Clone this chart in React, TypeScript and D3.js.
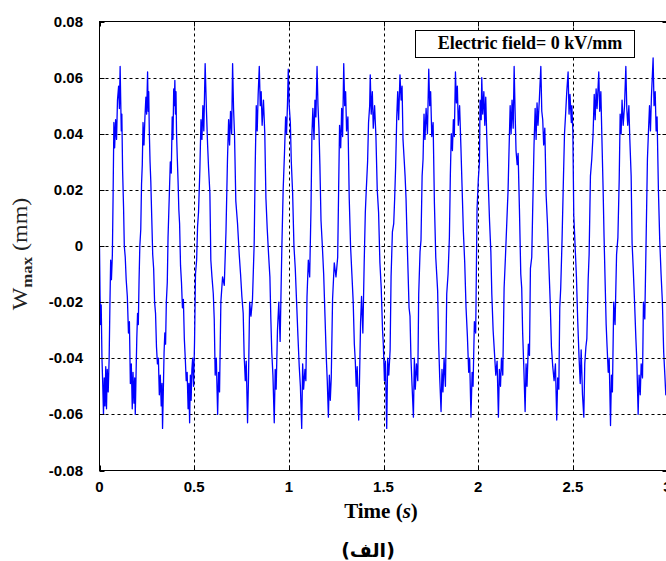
import { useEffect, useRef } from "react";
import * as d3 from "d3";

// W_max (mm) vs time (s) in half-second chunks
const partA: [number, number][] = [
  [0.000, 0.000], [0.003, -0.018], [0.006, -0.028], [0.009, -0.021], [0.013, -0.040], [0.017, -0.049],
  [0.021, -0.060], [0.025, -0.047], [0.029, -0.057], [0.033, -0.043], [0.037, -0.058], [0.041, -0.044],
  [0.046, -0.052], [0.051, -0.040], [0.055, -0.021], [0.059, -0.005], [0.063, -0.012], [0.068, -0.003],
  [0.072, 0.019], [0.076, 0.044], [0.080, 0.035], [0.085, 0.045], [0.090, 0.038], [0.095, 0.052],
  [0.101, 0.057], [0.105, 0.049], [0.109, 0.064], [0.112, 0.052], [0.115, 0.041], [0.118, 0.047],
  [0.122, 0.027], [0.127, 0.014], [0.131, 0.000], [0.136, -0.004], [0.141, -0.012], [0.147, -0.018],
  [0.153, -0.031], [0.158, -0.027], [0.163, -0.049], [0.168, -0.042], [0.173, -0.058], [0.177, -0.045],
  [0.182, -0.056], [0.186, -0.047], [0.189, -0.060], [0.193, -0.046], [0.197, -0.033], [0.201, -0.024],
  [0.205, -0.028], [0.209, -0.012], [0.213, 0.000], [0.218, 0.006], [0.222, 0.022], [0.226, 0.029],
  [0.230, 0.044], [0.235, 0.036], [0.240, 0.046], [0.245, 0.053], [0.249, 0.047], [0.254, 0.062],
  [0.257, 0.048], [0.260, 0.055], [0.263, 0.041], [0.267, 0.030], [0.271, 0.023], [0.276, 0.010],
  [0.281, -0.003], [0.286, -0.008], [0.291, -0.020], [0.296, -0.024], [0.301, -0.036], [0.306, -0.042],
  [0.311, -0.040], [0.316, -0.053], [0.321, -0.046], [0.326, -0.057], [0.330, -0.049], [0.333, -0.065],
  [0.337, -0.052], [0.341, -0.038], [0.345, -0.031], [0.349, -0.035], [0.353, -0.020], [0.358, -0.013],
  [0.362, 0.003], [0.366, 0.012], [0.370, 0.021], [0.374, 0.030], [0.379, 0.026], [0.384, 0.046],
  [0.388, 0.038], [0.392, 0.056], [0.395, 0.050], [0.398, 0.059], [0.401, 0.047], [0.404, 0.055],
  [0.407, 0.040], [0.411, 0.031], [0.415, 0.023], [0.419, 0.013], [0.423, 0.008], [0.428, -0.007],
  [0.433, -0.013], [0.438, -0.022], [0.443, -0.019], [0.448, -0.033], [0.453, -0.040], [0.458, -0.048],
  [0.463, -0.045], [0.468, -0.058], [0.472, -0.049], [0.476, -0.063], [0.480, -0.046], [0.484, -0.055],
  [0.488, -0.044],
];

const partB: [number, number][] = [
  [0.492, -0.040], [0.497, -0.050], [0.502, -0.034], [0.507, -0.010], [0.513, -0.005], [0.518, 0.007],
  [0.523, 0.012], [0.530, 0.027], [0.536, 0.045], [0.541, 0.038], [0.546, 0.050], [0.551, 0.041],
  [0.558, 0.065], [0.565, 0.048], [0.571, 0.036], [0.576, 0.028], [0.583, 0.019], [0.588, -0.005],
  [0.594, -0.011], [0.601, -0.017], [0.606, -0.026], [0.611, -0.046], [0.617, -0.040], [0.624, -0.060],
  [0.629, -0.045], [0.634, -0.052], [0.641, -0.020], [0.650, -0.011], [0.659, -0.014], [0.668, 0.005],
  [0.676, 0.031], [0.682, 0.045], [0.687, 0.036], [0.692, 0.048], [0.698, 0.040], [0.703, 0.065],
  [0.708, 0.049], [0.713, 0.040], [0.720, 0.016], [0.729, 0.008], [0.738, -0.003], [0.745, -0.010],
  [0.752, -0.018], [0.759, -0.024], [0.764, -0.039], [0.770, -0.048], [0.775, -0.041], [0.782, -0.063],
  [0.787, -0.047], [0.793, -0.020], [0.800, -0.025], [0.808, -0.019], [0.817, 0.001], [0.822, 0.027],
  [0.828, 0.050], [0.833, 0.041], [0.838, 0.054], [0.844, 0.064], [0.849, 0.050], [0.854, 0.055],
  [0.859, 0.043], [0.866, 0.052], [0.873, 0.040], [0.879, 0.017], [0.886, 0.006], [0.893, -0.003],
  [0.900, -0.011], [0.905, -0.026], [0.910, -0.038], [0.916, -0.046], [0.923, -0.063], [0.928, -0.044],
  [0.933, -0.051], [0.940, -0.030], [0.947, -0.020], [0.954, -0.034], [0.963, -0.001], [0.970, 0.020],
  [0.977, 0.033], [0.983, 0.046], [0.988, 0.040], [0.993, 0.051],
];

const partC: [number, number][] = [
  [0.997, 0.063], [1.002, 0.050], [1.008, 0.044], [1.013, 0.030], [1.020, 0.019], [1.027, 0.000],
  [1.034, -0.008], [1.041, -0.020], [1.048, -0.032], [1.055, -0.043], [1.061, -0.050], [1.068, -0.065],
  [1.073, -0.042], [1.078, -0.051], [1.085, -0.044], [1.090, -0.048], [1.096, -0.018], [1.103, -0.005],
  [1.110, -0.011], [1.117, 0.013], [1.122, 0.040], [1.127, 0.049], [1.133, 0.038], [1.138, 0.052],
  [1.143, 0.046], [1.149, 0.064], [1.154, 0.050], [1.159, 0.042], [1.164, 0.029], [1.170, 0.009],
  [1.177, 0.000], [1.184, -0.010], [1.191, -0.025], [1.198, -0.040], [1.203, -0.048], [1.209, -0.061],
  [1.214, -0.046], [1.219, -0.055], [1.224, -0.047], [1.231, -0.019], [1.240, -0.006], [1.249, -0.011],
  [1.258, -0.004], [1.263, 0.020], [1.268, 0.043], [1.274, 0.035], [1.279, 0.049], [1.284, 0.039],
  [1.290, 0.065], [1.295, 0.050], [1.300, 0.055], [1.305, 0.041], [1.312, 0.046], [1.319, 0.017],
  [1.326, 0.000], [1.333, -0.010], [1.340, -0.020], [1.346, -0.035], [1.351, -0.041], [1.356, -0.050],
  [1.361, -0.043], [1.369, -0.062], [1.374, -0.045], [1.379, -0.027], [1.384, -0.018], [1.391, -0.031],
  [1.398, -0.006], [1.404, 0.012], [1.409, 0.020], [1.416, 0.030], [1.421, 0.044], [1.427, 0.050],
  [1.430, 0.061], [1.435, 0.047], [1.441, 0.055], [1.446, 0.042], [1.453, 0.050], [1.460, 0.039],
  [1.467, 0.020], [1.474, 0.012], [1.481, -0.006], [1.488, -0.015], [1.495, -0.030],
];

const partD: [number, number][] = [
  [1.499, -0.035], [1.505, -0.048], [1.510, -0.041], [1.517, -0.065], [1.522, -0.040], [1.528, -0.046],
  [1.535, -0.037], [1.540, -0.011], [1.547, 0.005], [1.554, 0.008], [1.559, 0.017], [1.564, 0.028],
  [1.570, 0.046], [1.575, 0.055], [1.580, 0.045], [1.587, 0.061], [1.593, 0.052], [1.598, 0.057],
  [1.603, 0.038], [1.609, 0.031], [1.614, 0.025], [1.619, 0.017], [1.624, 0.004], [1.630, -0.010],
  [1.635, -0.022], [1.640, -0.025], [1.645, -0.040], [1.651, -0.050], [1.658, -0.061], [1.663, -0.040],
  [1.668, -0.051], [1.674, -0.042], [1.681, -0.048], [1.686, -0.017], [1.693, -0.002], [1.698, 0.002],
  [1.704, 0.025], [1.709, 0.031], [1.714, 0.047], [1.719, 0.038], [1.725, 0.049], [1.732, 0.040],
  [1.739, 0.063], [1.744, 0.050], [1.749, 0.055], [1.755, 0.039], [1.762, 0.044], [1.769, 0.015],
  [1.776, -0.004], [1.781, -0.010], [1.786, -0.016], [1.791, -0.034], [1.797, -0.047], [1.804, -0.059],
  [1.809, -0.044], [1.814, -0.052], [1.820, -0.040], [1.827, -0.050], [1.834, -0.017], [1.841, -0.010],
  [1.848, 0.003], [1.853, 0.025], [1.858, 0.040], [1.864, 0.034], [1.869, 0.045], [1.874, 0.039],
  [1.880, 0.062], [1.885, 0.051], [1.890, 0.057], [1.895, 0.043], [1.902, 0.050], [1.909, 0.035],
  [1.915, 0.021], [1.922, 0.005], [1.929, -0.006], [1.936, -0.022], [1.943, -0.032], [1.950, -0.045],
  [1.955, -0.040], [1.962, -0.061], [1.968, -0.045], [1.973, -0.050], [1.980, -0.027], [1.987, -0.031],
  [1.994, 0.013], [2.001, 0.024],
];

const partE: [number, number][] = [
  [2.007, 0.030], [2.010, 0.052], [2.016, 0.045], [2.019, 0.060], [2.024, 0.047], [2.030, 0.055],
  [2.035, 0.043], [2.040, 0.053], [2.045, 0.040], [2.052, 0.025], [2.060, 0.009], [2.067, -0.002],
  [2.072, -0.017], [2.079, -0.030], [2.086, -0.038], [2.093, -0.046], [2.100, -0.041], [2.107, -0.061],
  [2.112, -0.044], [2.118, -0.050], [2.123, -0.040], [2.130, -0.046], [2.137, -0.015], [2.144, -0.004],
  [2.151, 0.008], [2.158, 0.020], [2.163, 0.034], [2.169, 0.050], [2.174, 0.040], [2.179, 0.052],
  [2.185, 0.042], [2.190, 0.064], [2.195, 0.048], [2.200, 0.034], [2.206, 0.029], [2.211, 0.033],
  [2.218, 0.013], [2.225, -0.010], [2.230, -0.015], [2.235, -0.031], [2.241, -0.043], [2.248, -0.059],
  [2.253, -0.042], [2.258, -0.050], [2.265, -0.035], [2.271, -0.039], [2.276, -0.008], [2.283, -0.004],
  [2.288, 0.013], [2.295, 0.036], [2.301, 0.049], [2.306, 0.038], [2.311, 0.051], [2.316, 0.043],
  [2.323, 0.052], [2.331, 0.064], [2.336, 0.048], [2.341, 0.045], [2.346, 0.036], [2.352, 0.042],
  [2.359, 0.018], [2.366, 0.008], [2.373, -0.006], [2.380, -0.019], [2.387, -0.036], [2.394, -0.043],
  [2.401, -0.048], [2.408, -0.042], [2.415, -0.062], [2.420, -0.047], [2.426, -0.051], [2.431, -0.022],
  [2.436, -0.015], [2.443, 0.002], [2.450, 0.023], [2.456, 0.040], [2.461, 0.046], [2.468, 0.055],
  [2.475, 0.062], [2.480, 0.047], [2.485, 0.054], [2.492, 0.044],
];

const partF: [number, number][] = [
  [2.495, 0.050], [2.500, 0.041], [2.505, 0.011], [2.512, 0.000], [2.519, -0.011], [2.526, -0.027],
  [2.533, -0.040], [2.539, -0.049], [2.544, -0.037], [2.551, -0.053], [2.558, -0.061], [2.563, -0.042],
  [2.569, -0.036], [2.574, -0.033], [2.581, -0.012], [2.586, -0.003], [2.593, 0.025], [2.600, 0.031],
  [2.607, 0.040], [2.613, 0.054], [2.618, 0.045], [2.623, 0.056], [2.628, 0.049], [2.637, 0.062],
  [2.642, 0.048], [2.648, 0.055], [2.653, 0.040], [2.660, 0.020], [2.665, 0.003], [2.671, -0.014],
  [2.676, -0.028], [2.681, -0.036], [2.687, -0.045], [2.692, -0.040], [2.699, -0.064], [2.704, -0.046],
  [2.709, -0.052], [2.716, -0.020], [2.723, -0.028], [2.731, -0.003], [2.738, 0.003], [2.745, 0.024],
  [2.750, 0.047], [2.755, 0.040], [2.760, 0.052], [2.766, 0.043], [2.773, 0.050], [2.780, 0.064],
  [2.785, 0.049], [2.790, 0.043], [2.796, 0.050], [2.801, 0.038], [2.808, 0.025], [2.813, 0.001],
  [2.819, -0.008], [2.826, -0.020], [2.833, -0.033], [2.838, -0.041], [2.845, -0.060], [2.850, -0.046],
  [2.856, -0.053], [2.861, -0.042], [2.868, -0.047], [2.873, -0.020], [2.880, -0.026], [2.887, 0.002],
  [2.894, 0.031], [2.899, 0.040], [2.905, 0.050], [2.910, 0.041], [2.915, 0.053], [2.924, 0.067],
  [2.929, 0.050], [2.935, 0.055], [2.940, 0.041], [2.945, 0.046], [2.952, 0.020], [2.959, 0.002],
  [2.966, -0.010], [2.973, -0.020], [2.980, -0.038], [2.986, -0.046], [2.991, -0.053], [2.998, -0.050],
];

const xTicks = [0, 0.5, 1, 1.5, 2, 2.5, 3];
const xTickLabels = ["0", "0.5", "1", "1.5", "2", "2.5", "3"];
const yTicks = [-0.08, -0.06, -0.04, -0.02, 0, 0.02, 0.04, 0.06, 0.08];
const yTickLabels = ["-0.08", "-0.06", "-0.04", "-0.02", "0", "0.02", "0.04", "0.06", "0.08"];

function Chart() {
  const ref = useRef<SVGSVGElement>(null);

  useEffect(() => {
    const svg = d3.select(ref.current);
    svg.selectAll("*").remove();

    const left = 99.5;
    const right = 667.5;
    const top = 21.5;
    const bottom = 470.5;

    const x = d3.scaleLinear().domain([0, 3]).range([left, right]);
    const y = d3.scaleLinear().domain([-0.08, 0.08]).range([bottom, top]);

    svg.append("rect").attr("width", 666).attr("height", 561).attr("fill", "#fff");

    // grid
    const grid = svg.append("g").attr("stroke", "#000").attr("stroke-width", 1).attr("stroke-dasharray", "3,3");
    xTicks.slice(1, -1).forEach((t) => {
      grid.append("line").attr("x1", Math.round(x(t)) + 0.5).attr("x2", Math.round(x(t)) + 0.5).attr("y1", top).attr("y2", bottom);
    });
    yTicks.slice(1, -1).forEach((v) => {
      grid.append("line").attr("y1", Math.round(y(v)) + 0.5).attr("y2", Math.round(y(v)) + 0.5).attr("x1", left).attr("x2", right);
    });

    // signal
    svg.append("clipPath").attr("id", "plot-clip").append("rect")
      .attr("x", left).attr("y", top).attr("width", right - left).attr("height", bottom - top);

    const all = [...partA, ...partB, ...partC, ...partD, ...partE, ...partF];
    const line = d3.line<[number, number]>().x((d) => x(d[0])).y((d) => y(d[1]));
    svg.append("path")
      .attr("d", line(all))
      .attr("fill", "none")
      .attr("stroke", "#0000ff")
      .attr("stroke-width", 1.3)
      .attr("stroke-linejoin", "round")
      .attr("clip-path", "url(#plot-clip)");

    // axes box + inward ticks
    svg.append("rect")
      .attr("x", left).attr("y", top).attr("width", right - left).attr("height", bottom - top)
      .attr("fill", "none").attr("stroke", "#000").attr("stroke-width", 1);

    const ticks = svg.append("g").attr("stroke", "#000").attr("stroke-width", 1);
    xTicks.forEach((t) => {
      const px = Math.round(x(t)) + 0.5;
      ticks.append("line").attr("x1", px).attr("x2", px).attr("y1", bottom).attr("y2", bottom - 5);
      ticks.append("line").attr("x1", px).attr("x2", px).attr("y1", top).attr("y2", top + 5);
    });
    yTicks.forEach((v) => {
      const py = Math.round(y(v)) + 0.5;
      ticks.append("line").attr("y1", py).attr("y2", py).attr("x1", left).attr("x2", left + 5);
      ticks.append("line").attr("y1", py).attr("y2", py).attr("x1", right).attr("x2", right - 5);
    });

    // tick labels
    const tickFont = "'Liberation Sans', Arial, sans-serif";
    svg.append("g").selectAll("text").data(xTicks).join("text")
      .attr("x", (d) => x(d)).attr("y", bottom + 21)
      .attr("text-anchor", "middle")
      .style("font-family", tickFont).style("font-size", "15px").style("font-weight", "bold")
      .text((d, i) => xTickLabels[i]);

    svg.append("g").selectAll("text").data(yTicks).join("text")
      .attr("x", 83).attr("y", (d) => y(d) + 5)
      .attr("text-anchor", "end")
      .style("font-family", tickFont).style("font-size", "15px").style("font-weight", "bold")
      .text((d, i) => yTickLabels[i]);

    // axis titles
    const serif = "'Liberation Serif', 'Times New Roman', serif";
    const xt = svg.append("text")
      .attr("x", 381).attr("y", 518)
      .attr("text-anchor", "middle")
      .style("font-family", serif).style("font-size", "21px").style("font-weight", "bold");
    xt.append("tspan").text("Time (");
    xt.append("tspan").style("font-style", "italic").text("s");
    xt.append("tspan").text(")");

    const yt = svg.append("text")
      .attr("transform", "translate(27,254) rotate(-90) scale(1.2,1)")
      .attr("text-anchor", "middle")
      .style("font-family", serif).style("font-size", "20px").style("fill", "#222");
    yt.append("tspan").text("W");
    yt.append("tspan").attr("dy", 5).style("font-size", "14px").style("font-weight", "bold").text("max");
    yt.append("tspan").attr("dy", -5).text(" (mm)");

    // caption
    svg.append("text")
      .attr("x", 368).attr("y", 557)
      .attr("text-anchor", "middle")
      .style("font-family", "'DejaVu Sans', sans-serif").style("font-size", "19px").style("font-weight", "bold")
      .text("(الف)");

    // legend box
    svg.append("rect")
      .attr("x", 415.5).attr("y", 30.5).attr("width", 219).attr("height", 27)
      .attr("fill", "#fff").attr("stroke", "#000").attr("stroke-width", 1);
    svg.append("text")
      .attr("x", 530).attr("y", 49)
      .attr("text-anchor", "middle")
      .style("font-family", serif).style("font-size", "18px").style("font-weight", "bold")
      .text("Electric field= 0 kV/mm");
  }, []);

  return <svg ref={ref} width={666} height={561} style={{ position: "absolute", left: 0, top: 0 }}></svg>;
}

export default function App() {
  return <Chart />;
}
